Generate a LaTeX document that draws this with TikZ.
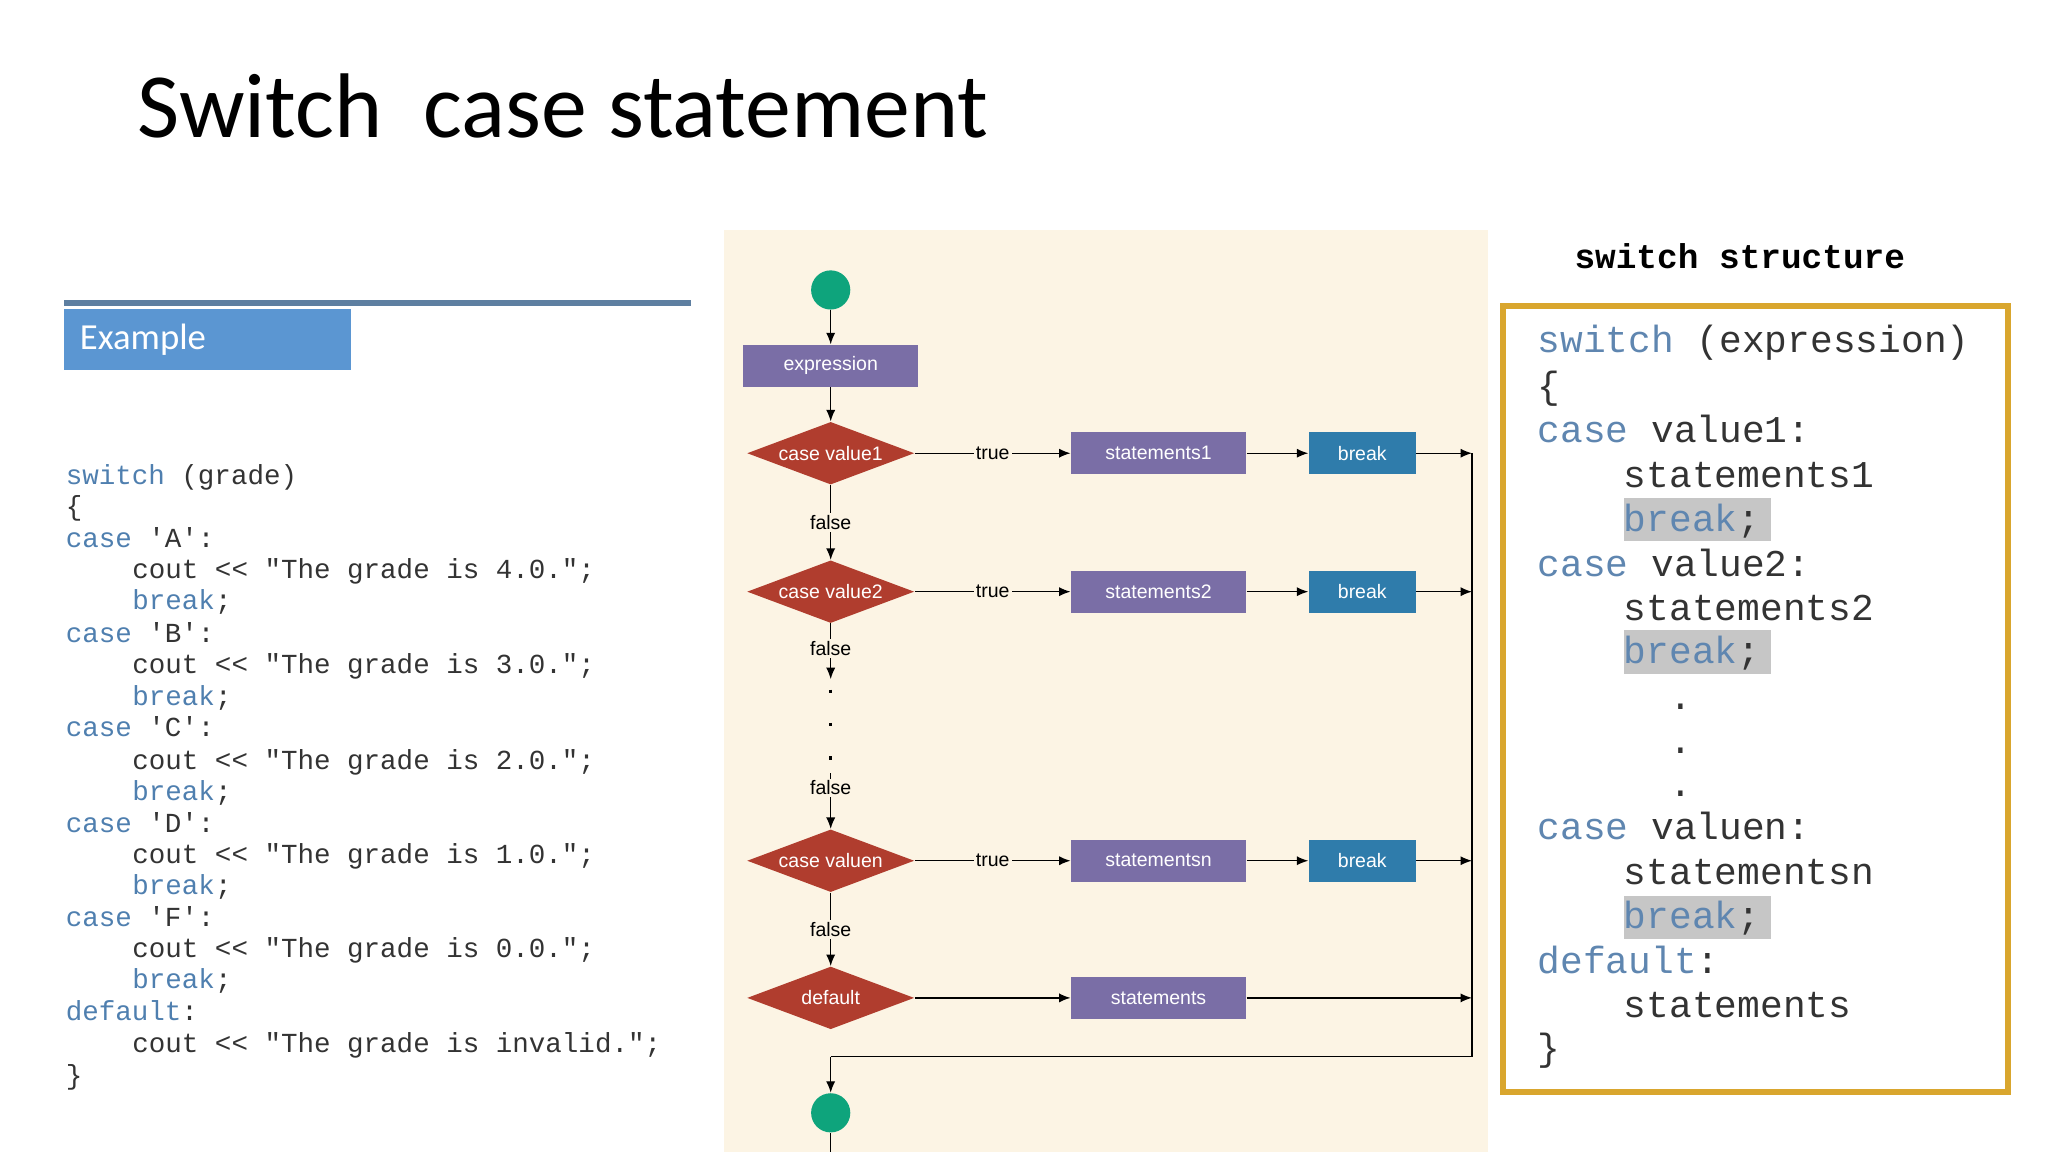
\documentclass[tikz,border=0pt]{standalone}
\usepackage{fontspec}
\setmainfont{Carlito}
\setsansfont{Liberation Sans}
\setmonofont{Liberation Mono}
\usetikzlibrary{shapes.geometric,arrows.meta}
\definecolor{kw}{HTML}{4F7FAF}
\definecolor{kw2}{HTML}{5F86B0}
\definecolor{codec}{HTML}{333333}
\definecolor{bg}{HTML}{FCF4E4}
\definecolor{purp}{HTML}{7A6EA6}
\definecolor{brk}{HTML}{2F7CAB}
\definecolor{dia}{HTML}{B03D2E}
\definecolor{grn}{HTML}{0EA47C}
\definecolor{gold}{HTML}{D9A62E}
\definecolor{exb}{HTML}{5B96D2}
\newcommand{\K}[1]{\textcolor{kw}{#1}}
\newcommand{\KK}[1]{\textcolor{kw2}{#1}}
\begin{document}
\begin{tikzpicture}[x=0.02cm,y=-0.02cm,
 lc/.style={anchor=base west,inner sep=0,font=\ttfamily\fontsize{12}{12}\selectfont,text=codec},
 rc/.style={anchor=base west,inner sep=0,font=\ttfamily\fontsize{16.5}{16.5}\selectfont,text=codec},
 box/.style={fill=purp,minimum width=134*0.02cm,minimum height=32*0.02cm,inner sep=0,text=white,font=\sffamily\fontsize{8.5}{9}\selectfont},
 bk/.style={fill=brk,minimum width=82*0.02cm,minimum height=32*0.02cm,inner sep=0,text=white,font=\sffamily\fontsize{8.5}{9}\selectfont},
 dm/.style={diamond,aspect=2.7,fill=dia,minimum width=128*0.02cm,minimum height=48*0.02cm,inner sep=0,text=white,font=\sffamily\fontsize{8.5}{9}\selectfont},
 circ/.style={circle,fill=grn,minimum size=30*0.02cm,inner sep=0},
 lab/.style={fill=bg,inner sep=1pt,font=\sffamily\fontsize{8.5}{9}\selectfont},
 ar/.style={-{Latex[length=5pt,width=4pt]},line width=0.6pt},
 ln/.style={line width=0.6pt}]
\useasboundingbox (0,0) rectangle (1568,882);
\node[anchor=base west,inner sep=0,font=\fontsize{40}{40}\selectfont] (title) at (105,105) {Switch\ \ case statement};
% example
\draw[line width=2.5pt,color=kw!70!gray] (49,232) -- (529,232);
\node[fill=exb,anchor=north west,minimum width=219*0.02cm,minimum height=47*0.02cm,inner sep=0] (ex) at (49,236) {};
\node[anchor=west,text=white,font=\fontsize{16}{16}\selectfont] (ext) at (55,260) {Example};
% left code
\node[lc] (l1) at (50,371) {\K{switch} (grade)};
\node[lc] (l2) at (50,395) {\{};
\node[lc] (l3) at (50,419) {\K{case} 'A':};
\node[lc] (l4) at (101,443) {cout << "The grade is 4.0.";};
\node[lc] (l5) at (101,467) {\K{break};};
\node[lc] (l6) at (50,492) {\K{case} 'B':};
\node[lc] (l7) at (101,516) {cout << "The grade is 3.0.";};
\node[lc] (l8) at (101,540) {\K{break};};
\node[lc] (l9) at (50,564) {\K{case} 'C':};
\node[lc] (l10) at (101,589) {cout << "The grade is 2.0.";};
\node[lc] (l11) at (101,613) {\K{break};};
\node[lc] (l12) at (50,637) {\K{case} 'D':};
\node[lc] (l13) at (101,661) {cout << "The grade is 1.0.";};
\node[lc] (l14) at (101,685) {\K{break};};
\node[lc] (l15) at (50,709) {\K{case} 'F':};
\node[lc] (l16) at (101,733) {cout << "The grade is 0.0.";};
\node[lc] (l17) at (101,757) {\K{break};};
\node[lc] (l18) at (50,781) {\K{default}:};
\node[lc] (l19) at (101,806) {cout << "The grade is invalid.";};
\node[lc] (l20) at (50,830) {\}};
% flowchart
\fill[bg] (554,176) rectangle (1139,882);
\node[circ] (s) at (636,222) {};
\node[box] (e) at (636,280) {expression};
\node[dm] (d1) at (636,347) {case value1};
\node[dm] (d2) at (636,453) {case value2};
\node[dm] (dn) at (636,659) {case valuen};
\node[dm] (dd) at (636,764) {default};
\node[box] (s1) at (887,347) {statements1};
\node[box] (s2) at (887,453) {statements2};
\node[box] (sn) at (887,659) {statementsn};
\node[box] (sd) at (887,764) {statements};
\node[bk] (b1) at (1043,347) {break};
\node[bk] (b2) at (1043,453) {break};
\node[bk] (bn) at (1043,659) {break};
\node[circ] (t) at (636,852) {};
\coordinate (r1) at (1127,347);
\coordinate (r2) at (1127,453);
\coordinate (rn) at (1127,659);
\coordinate (rd) at (1127,764);
\coordinate (rb) at (1127,809);
\coordinate (cb) at (636,809);
\coordinate (bot) at (636,882);
\coordinate (dt) at (636,520);
\coordinate (db) at (636,592);
\draw[ar] (s) -- (e);
\draw[ar] (e) -- (d1);
\foreach \d/\s/\b/\r in {d1/s1/b1/r1,d2/s2/b2/r2,dn/sn/bn/rn}{
 \draw[ar] (\d) -- node[lab]{true} (\s);
 \draw[ar] (\s) -- (\b);
 \draw[ar] (\b) -- (\r);}
\draw[ar] (d1) -- node[lab]{false} (d2);
\draw[ar] (d2) -- node[lab,pos=0.45]{false} (dt);
\draw[ln,dash pattern=on 1.5pt off 13pt,line width=1.4pt] (dt) ++(0,8) -- (db);
\draw[ar] (db) node[lab,below=2pt]{false} -- (dn);
\draw[ar] (dn) -- node[lab]{false} (dd);
\draw[ar] (dd) -- (sd);
\draw[ar] (sd) -- (rd);
\draw[ln] (r1) -- (rb) -- (cb);
\draw[ar] (cb) -- (t);
\draw[ln] (t) -- (bot);
% right box
\node[font=\ttfamily\bfseries\fontsize{15}{15}\selectfont] (hd) at (1332,196) {switch structure};
\draw[gold,line width=2.6pt] (1151,234) rectangle (1537,836);
\fill[gray!45] (1243,381) rectangle (1356,414);
\fill[gray!45] (1243,482) rectangle (1356,516);
\fill[gray!45] (1243,686) rectangle (1356,719);
\node[rc] (r01) at (1177,270) {\KK{switch} (expression)};
\node[rc] (r02) at (1177,305) {\{};
\node[rc] (r03) at (1177,339) {\KK{case} value1:};
\node[rc] (r04) at (1243,373) {statements1};
\node[rc] (r05) at (1243,407) {\KK{break};};
\node[rc] (r06) at (1177,441) {\KK{case} value2:};
\node[rc] (r07) at (1243,475) {statements2};
\node[rc] (r08) at (1243,508) {\KK{break};};
\node[rc] (r09) at (1243,543) {\ \ .};
\node[rc] (r10) at (1243,577) {\ \ .};
\node[rc] (r11) at (1243,610) {\ \ .};
\node[rc] (r12) at (1177,643) {\KK{case} valuen:};
\node[rc] (r13) at (1243,677) {statementsn};
\node[rc] (r14) at (1243,711) {\KK{break};};
\node[rc] (r15) at (1177,745) {\KK{default}:};
\node[rc] (r16) at (1243,779) {statements};
\node[rc] (r17) at (1177,812) {\}};
\end{tikzpicture}
\end{document}
